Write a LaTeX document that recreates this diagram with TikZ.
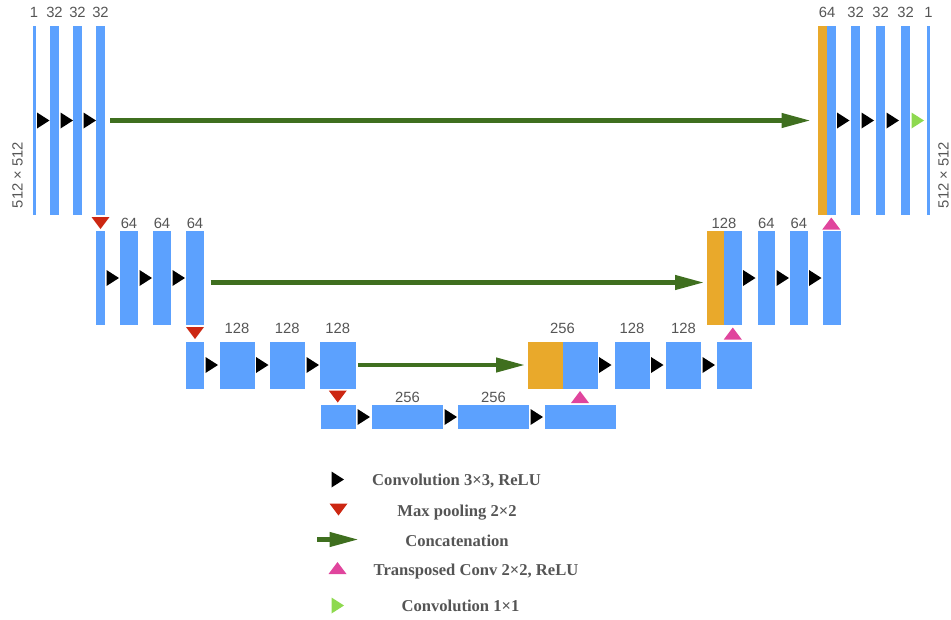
\documentclass[tikz,border=0pt]{standalone}
\usepackage{fontspec}
\setmainfont{Liberation Serif}
\setsansfont{Liberation Sans}
\usetikzlibrary{arrows.meta,calc,positioning}

\definecolor{blkblue}{RGB}{92,161,254}
\definecolor{catorange}{RGB}{233,169,43}
\definecolor{poolred}{RGB}{204,39,18}
\definecolor{uppink}{RGB}{224,69,157}
\definecolor{catgreen}{RGB}{63,111,31}
\definecolor{outgreen}{RGB}{142,217,79}
\definecolor{txtgray}{RGB}{85,85,85}

\begin{document}
\begin{tikzpicture}[x=1pt,y=-1pt,
  blk/.style={fill=blkblue,anchor=north west,inner sep=0pt,outer sep=0pt},
  lbl/.style={font=\sffamily\fontsize{14.8}{17}\selectfont,text=txtgray,inner sep=0pt},
  key/.style={font=\bfseries\fontsize{16.6}{19}\selectfont,text=txtgray,inner sep=0pt,
    text height=11pt,text depth=0pt},
  cat/.style={draw=catgreen,line width=4.3pt,-{Triangle[length=29pt,width=14pt]}},
  pics/rtri/.style={code={\fill[#1] (0,-8) -- (12.5,0) -- (0,8) -- cycle;}},
  pics/dtri/.style={code={\fill[#1] (-9,0) -- (9,0) -- (0,12) -- cycle;}},
  pics/utri/.style={code={\fill[#1] (-9,0) -- (9,0) -- (0,-12) -- cycle;}}]
  \useasboundingbox (0,0) rectangle (951,619);

  % contracting path
  \foreach \n/\x/\w in {l11/32.5/3, l12/50/9, l13/73/9, l14/96/9}
    \node[blk,minimum width=\w,minimum height=189] (\n) at (\x,26) {};
  \foreach \n/\x/\w in {l21/96/9, l22/120/18, l23/153/18, l24/186/18}
    \node[blk,minimum width=\w,minimum height=94] (\n) at (\x,231) {};
  \foreach \n/\x/\w in {l31/186/18, l32/219.5/35, l33/269.5/35.5, l34/320/35.5}
    \node[blk,minimum width=\w,minimum height=47] (\n) at (\x,341.5) {};
  % bottom
  \foreach \n/\x/\w in {b1/320.5/35.5, b2/372/71, b3/458/71, b4/545/71}
    \node[blk,minimum width=\w,minimum height=24] (\n) at (\x,405) {};
  % expanding path (orange = copied features)
  \node[blk,fill=catorange,minimum width=35,minimum height=47] (r3o) at (527.5,341.5) {};
  \foreach \n/\x in {r31/562.5, r32/614.5, r33/666, r34/717}
    \node[blk,minimum width=35,minimum height=47] (\n) at (\x,341.5) {};
  \node[blk,fill=catorange,minimum width=17,minimum height=94] (r2o) at (707,231) {};
  \foreach \n/\x in {r21/724, r22/757.5, r23/790, r24/823}
    \node[blk,minimum width=17.5,minimum height=94] (\n) at (\x,231) {};
  \node[blk,fill=catorange,minimum width=9,minimum height=189] (r1o) at (818,26) {};
  \foreach \n/\x/\w in {r11/827/8.5, r12/851/9, r13/876/9, r14/901/9, r15/927/3}
    \node[blk,minimum width=\w,minimum height=189] (\n) at (\x,26) {};

  % channel counts
  \foreach \n/\t in {l11/1, l12/32, l13/32, l14/32, r12/32, r13/32, r14/32, r15/1}
    \node[lbl,above=8pt of \n] (t-\n) {\t};
  \node[lbl,above=8pt of r11.north west] (t-r11) {64};
  \foreach \n/\t in {l22/64, l23/64, l24/64, r22/64, r23/64}
    \node[lbl,above=2pt of \n] (t-\n) {\t};
  \node[lbl,above=2pt of r21.north west] (t-r21) {128};
  \foreach \n/\t in {l32/128, l33/128, l34/128, r32/128, r33/128}
    \node[lbl,above=7.5pt of \n] (t-\n) {\t};
  \node[lbl,above=7.5pt of r31.north west] (t-r31) {256};
  \foreach \n/\t in {b2/256, b3/256}
    \node[lbl,above=2pt of \n] (t-\n) {\t};
  \node[lbl,rotate=90] (dimL) at (17.5,175) {512 × 512};
  \node[lbl,rotate=90] (dimR) at (943.5,175) {512 × 512};

  % 3x3 convolutions
  \foreach \n in {l11,l12,l13,l21,l22,l23,l31,l32,l33,b1,b2,b3,r31,r32,r33,r21,r22,r23,r11,r12,r13}
    \pic at ($(\n.east)+(1.5,0)$) {rtri=black};
  \pic at ($(r14.east)+(1.5,0)$) {rtri=outgreen};

  % pooling and up-convolutions
  \foreach \n in {l14,l24,l34}
    \pic at ($(\n.south)+(0,2)$) {dtri=poolred};
  \foreach \n in {r11,r21,r31}
    \pic at ($(\n.south)+(0,14.5)$) {utri=uppink};

  % skip connections
  \draw[cat] ([xshift=5pt]l14.east) -- ([xshift=-7.5pt]r1o.west);
  \draw[cat] ([xshift=6.5pt,yshift=-4.5pt]l24.east) -- ([xshift=-3pt,yshift=-4.5pt]r2o.west);
  \draw[cat] ([xshift=2.5pt]l34.east) -- ([xshift=-2.5pt]r3o.west);

  % legend
  \pic at (331.5,479.5) {rtri=black};
  \node[key] (k1) at (456.5,480) {Convolution 3×3, ReLU};
  \pic at (338.5,503.5) {dtri=poolred};
  \node[key] (k2) at (457,510.5) {Max pooling 2×2};
  \coordinate (ka) at (317,539.5);
  \coordinate (kb) at (358.5,539.5);
  \draw[cat] (ka) -- (kb);
  \node[key] (k3) at (457,540.5) {Concatenation};
  \pic at (337.5,574) {utri=uppink};
  \node[key] (k4) at (476,569.5) {Transposed Conv 2×2, ReLU};
  \pic at (331.5,605.5) {rtri=outgreen};
  \node[key] (k5) at (460.5,605.5) {Convolution 1×1};
\end{tikzpicture}
\end{document}
